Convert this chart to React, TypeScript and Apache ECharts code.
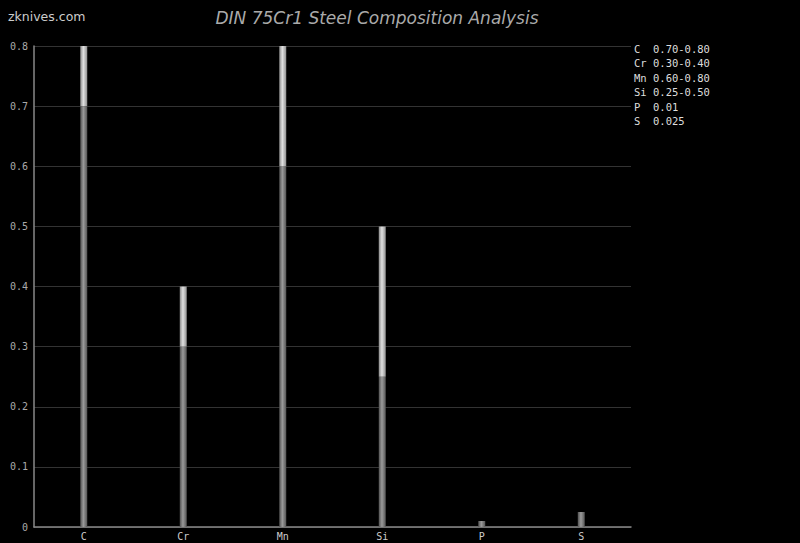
import React, { useEffect, useRef } from "react";
import * as echarts from "echarts";

const elements = ["C", "Cr", "Mn", "Si", "P", "S"];
const minValues = [0.7, 0.3, 0.6, 0.25, 0.01, 0.025];
const maxValues = [0.8, 0.4, 0.8, 0.5, 0.01, 0.025];
const rangeLabels = ["0.70-0.80", "0.30-0.40", "0.60-0.80", "0.25-0.50", "0.01", "0.025"];
const yTicks = [0, 0.1, 0.2, 0.3, 0.4, 0.5, 0.6, 0.7, 0.8];

const mono = "DejaVu Sans Mono, monospace";

export default function App() {
  const ref = useRef<HTMLDivElement>(null);
  useEffect(() => {
    document.body.style.margin = "0";
    document.body.style.background = "#000";
    const chart = echarts.init(ref.current!, null, { renderer: "svg" });
    const lowerGrad = new echarts.graphic.LinearGradient(0, 0, 1, 0, [
      { offset: 0, color: "#505050" },
      { offset: 0.45, color: "#9a9a9a" },
      { offset: 1, color: "#555555" },
    ]);
    const upperGrad = new echarts.graphic.LinearGradient(0, 0, 1, 0, [
      { offset: 0, color: "#8a8a8a" },
      { offset: 0.45, color: "#e0e0e0" },
      { offset: 1, color: "#909090" },
    ]);
    const legendTexts: any[] = [];
    elements.forEach((el, i) => {
      legendTexts.push({
        type: "text",
        x: 634,
        y: 49 + i * 14.4,
        style: { text: el, fill: "#dddddd", font: `10.5px ${mono}`, textVerticalAlign: "middle" },
      });
      legendTexts.push({
        type: "text",
        x: 653,
        y: 49 + i * 14.4,
        style: { text: rangeLabels[i], fill: "#dddddd", font: `10.5px ${mono}`, textVerticalAlign: "middle" },
      });
    });
    chart.setOption({
      animation: false,
      backgroundColor: "#000000",
      grid: { left: 34, right: 169, top: 46, bottom: 16, containLabel: false },
      xAxis: {
        type: "category",
        data: elements,
        axisLine: { lineStyle: { color: "#888888", width: 1.5 } },
        axisTick: { show: false },
        axisLabel: { color: "#cccccc", fontFamily: mono, fontSize: 10, margin: 4 },
      },
      yAxis: {
        type: "value",
        min: 0,
        max: 0.8,
        interval: 0.1,
        axisLine: { show: true, lineStyle: { color: "#888888", width: 1.5 } },
        axisTick: { show: false },
        axisLabel: {
          color: "#aaaaaa",
          fontFamily: mono,
          fontSize: 10,
          margin: 6,
          formatter: (v: number) => {
            const idx = yTicks.findIndex((t) => Math.abs(t - v) < 1e-9);
            return idx === 0 ? "0" : (idx >= 0 ? yTicks[idx] : v).toFixed(1);
          },
        },
        splitLine: { lineStyle: { color: "#333333", width: 1 } },
      },
      series: [
        {
          type: "bar",
          stack: "range",
          data: minValues,
          barWidth: 7,
          itemStyle: { color: lowerGrad },
        },
        {
          type: "bar",
          stack: "range",
          data: maxValues.map((m, i) => +(m - minValues[i]).toFixed(4)),
          barWidth: 7,
          itemStyle: { color: upperGrad },
        },
      ],
      graphic: [
        {
          type: "text",
          x: 8,
          y: 16,
          style: { text: "zknives.com", fill: "#cccccc", font: "12.5px DejaVu Sans, sans-serif", textVerticalAlign: "middle" },
        },
        {
          type: "text",
          x: 377,
          y: 18,
          style: {
            text: "DIN 75Cr1 Steel Composition Analysis",
            fill: "#aaaaaa",
            font: "italic 17px DejaVu Sans, sans-serif",
            textAlign: "center",
            textVerticalAlign: "middle",
          },
        },
        ...legendTexts,
      ],
    });
    return () => chart.dispose();
  }, []);
  return <div ref={ref} style={{ width: 800, height: 543, position: "absolute", left: 0, top: 0 }} />;
}
